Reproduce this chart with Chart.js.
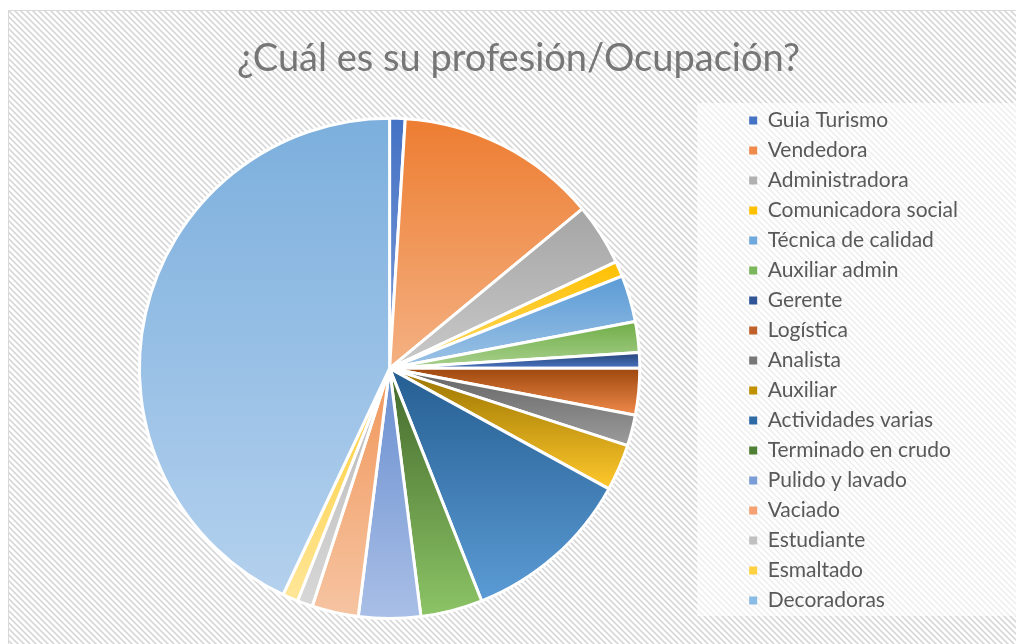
<!DOCTYPE html>
<html>
<head>
<meta charset="utf-8">
<script src="https://cdn.jsdelivr.net/npm/chart.js@4.4.1/dist/chart.umd.min.js"></script>
<style>
html,body{margin:0;padding:0;background:#fff;width:1016px;height:644px;overflow:hidden}
#bg{position:absolute;left:8px;top:10px;width:1030px;height:660px;border-left:1.5px solid #d9d9d9;border-top:1.5px solid #d9d9d9;background-color:#f0f0f0}
#wrap{position:absolute;left:0;top:0;width:1016px;height:644px}
</style>
</head>
<body>
<div id="bg"></div>
<div id="wrap"><canvas id="c" width="1016" height="644"></canvas></div>
<script>
const chartTitle = '¿Cuál es su profesión/Ocupación?';
const categories = ['Guia Turismo','Vendedora','Administradora','Comunicadora social','Técnica de calidad','Auxiliar admin','Gerente','Logística','Analista','Auxiliar','Actividades varias','Terminado en crudo','Pulido y lavado','Vaciado','Estudiante','Esmaltado','Decoradoras'];
const counts = [1,13,4,1,3,2,1,3,2,3,11,4,4,3,1,1,43];

const topColors = ['#4472C4','#ED7D31','#A5A5A5','#FFC000','#5B9BD5','#70AD47','#264478','#9E480E','#636363','#997300','#255E91','#43682B','#698ED0','#F1975A','#B7B7B7','#FFCD33','#7CAFDD'];
const bottomColors = ['#7D9BD9','#F4B183','#C9C9C9','#FFD966','#9DC3E6','#A9D18E','#4A74C0','#F08A4B','#9C9C9C','#FFC82C','#5B9BD5','#8CC466','#A9BFE6','#F6C4A2','#D7D7D7','#FFE699','#B4D1EE'];
const legendColors = ['#4472C4','#F08A4B','#B0B0B0','#FFC000','#6EA8DC','#7CB65A','#2F5597','#C0602A','#777777','#C09000','#2E6BA6','#4E7F33','#7A9DD8','#F4A070','#C0C0C0','#FFD040','#8ABBE4'];

// hatched background tile
(function () {
  const n = 6, t = document.createElement('canvas');
  t.width = n; t.height = n;
  const tc = t.getContext('2d');
  const img = tc.createImageData(n, n);
  for (let y = 0; y < n; y++) for (let x = 0; x < n; x++) {
    const d = ((x - y) % n + n) % n;
    const v = d === 0 ? 212 : (d === 1 || d === n - 1 ? 230 : 255);
    const k = (y * n + x) * 4;
    img.data[k] = img.data[k + 1] = img.data[k + 2] = v; img.data[k + 3] = 255;
  }
  tc.putImageData(img, 0, 0);
  document.getElementById('bg').style.backgroundImage = 'url(' + t.toDataURL() + ')';
})();

const FONT = 'Lato';
const LEGEND_SIZE = 21;
const mctx = document.createElement('canvas').getContext('2d');
mctx.font = LEGEND_SIZE + 'px ' + FONT;
const maxText = Math.max(...categories.map(c => mctx.measureText(c).width));
mctx.font = '40px ' + FONT;
const titleSize = 40 * 563 / mctx.measureText(chartTitle).width;

const legendW = 10 + 8 + LEGEND_SIZE / 2 + maxText + 10;
const padR = Math.max(0, 1016 - 733 - legendW);
const padL = 21 + padR;
const spacerW = Math.max(0, padL - 39);

function sliceGradient(ctx) {
  const chart = ctx.chart;
  const i = ctx.dataIndex;
  const area = chart.chartArea;
  if (!area || i === undefined) return topColors[i] || '#ccc';
  const meta = chart.getDatasetMeta(0);
  const r = (meta.controller && meta.controller.outerRadius) || Math.min(area.width, area.height) / 2;
  const cy = (area.top + area.bottom) / 2;
  const total = counts.reduce((a, b) => a + b, 0);
  let cum = 0;
  for (let k = 0; k < i; k++) cum += counts[k];
  const a0 = -Math.PI / 2 + 2 * Math.PI * cum / total;
  const a1 = a0 + 2 * Math.PI * counts[i] / total;
  const ys = [cy, cy + r * Math.sin(a0), cy + r * Math.sin(a1)];
  const within = (a) => {
    for (let t = a - 4 * Math.PI; t <= a + 4 * Math.PI; t += 2 * Math.PI) if (t >= a0 && t <= a1) return true;
    return false;
  };
  if (within(-Math.PI / 2)) ys.push(cy - r);
  if (within(Math.PI / 2)) ys.push(cy + r);
  const minY = Math.min(...ys), maxY = Math.max(...ys);
  const g = chart.ctx.createLinearGradient(0, minY, 0, Math.max(maxY, minY + 1));
  g.addColorStop(0, topColors[i]);
  g.addColorStop(1, bottomColors[i]);
  return g;
}

const spacerPlugin = {
  id: 'spacer',
  beforeInit(chart) {
    const box = {
      position: 'right', weight: 0, fullSize: false, options: {},
      isHorizontal() { return false; },
      update(maxW, maxH) { this.width = spacerW; this.height = maxH; },
      draw() {}
    };
    Chart.layouts.addBox(chart, box);
  }
};

const legendBgPlugin = {
  id: 'legendBg',
  beforeDraw(chart) {
    const lg = chart.legend;
    if (!lg) return;
    const c = chart.ctx;
    const x0 = lg.legendHitBoxes && lg.legendHitBoxes.length ? lg.legendHitBoxes[0].left - 52 : lg.left - 42;
    c.save();
    c.fillStyle = 'rgba(255,255,255,0.6)';
    c.fillRect(x0, 103, chart.width - x0, 513);
    c.restore();
  }
};

new Chart(document.getElementById('c'), {
  type: 'pie',
  data: {
    labels: categories,
    datasets: [{
      data: counts,
      backgroundColor: sliceGradient,
      borderColor: '#ffffff',
      borderWidth: 3
    }]
  },
  plugins: [spacerPlugin, legendBgPlugin],
  options: {
    responsive: false,
    animation: false,
    layout: { padding: { top: 14, bottom: 24, left: padL, right: padR } },
    plugins: {
      tooltip: { enabled: false },
      title: {
        display: true,
        text: chartTitle,
        color: '#767676',
        font: { family: FONT, size: titleSize, weight: 'normal' },
        padding: { top: 22, bottom: 35 }
      },
      legend: {
        position: 'right',
        align: 'end',
        labels: {
          font: { family: FONT, size: LEGEND_SIZE },
          color: '#595959',
          boxWidth: 8,
          boxHeight: 8,
          padding: 30 - LEGEND_SIZE,
          generateLabels() {
            return categories.map((c, i) => ({
              text: c, fillStyle: legendColors[i], strokeStyle: legendColors[i],
              lineWidth: 0, hidden: false, index: i, fontColor: '#595959'
            }));
          }
        }
      }
    }
  }
});
</script>
</body>
</html>
